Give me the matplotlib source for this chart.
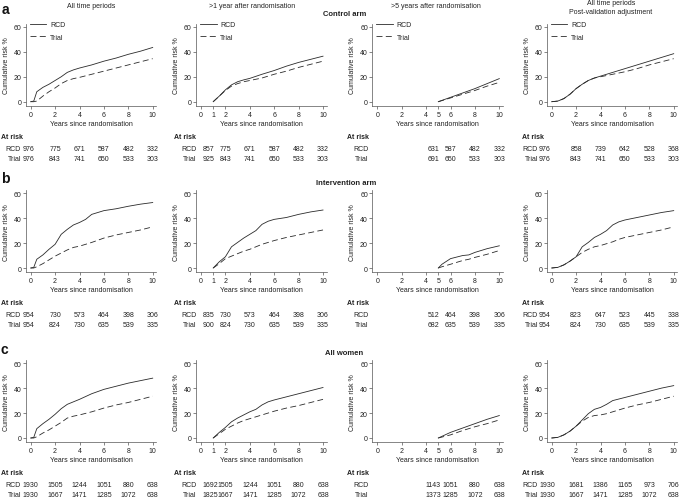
import matplotlib
matplotlib.use('Agg')
import matplotlib.pyplot as plt

plt.rcParams['font.family'] = ['Liberation Sans', 'DejaVu Sans']
plt.rcParams['lines.scale_dashes'] = False

# ---------------- data ----------------
row_titles = ['Control arm', 'Intervention arm', 'All women']
panel_letters = ['a', 'b', 'c']
col_titles = ['All time periods', '>1 year after randomisation',
              '>5 years after randomisation', 'All time periods\nPost-validation adjustment']
col_xticks = [[0, 2, 4, 6, 8, 10], [0, 1, 2, 4, 6, 8, 10],
              [0, 2, 4, 5, 6, 8, 10], [0, 2, 4, 6, 8, 10]]
yticks = [0, 20, 40, 60]
series_names = ['RCD', 'Trial']

# Control arm
ctrl_all_t = [0, 0.25, 0.5, 1, 1.5, 2, 2.5, 3, 3.5, 4, 5, 6, 7, 8, 9, 10]
ctrl_all_rcd = [0, 0.5, 8, 11.5, 14, 17, 20, 23.5, 25.5, 27, 29.5, 32.5, 35, 38, 40.5, 43.5]
ctrl_all_trial = [0, 0, 0.5, 4.5, 8, 11, 14.5, 17, 18.5, 19.5, 22, 24.5, 27, 29.5, 32, 34.5]
ctrl_gt1_t = [1, 1.5, 2, 2.5, 3, 3.5, 4, 5, 6, 7, 8, 9, 10]
ctrl_gt1_rcd = [0, 4.5, 9.5, 13.5, 16, 17.5, 18.7, 22, 25, 28.5, 31.5, 34, 36.5]
ctrl_gt1_trial = [0, 4.5, 9, 12.5, 14.5, 16, 17, 19, 22, 24.5, 27.5, 30, 32.5]
ctrl_gt5_t = [5, 6, 7, 8, 9, 10]
ctrl_gt5_rcd = [0, 3.5, 7, 10.5, 14.5, 18.5]
ctrl_gt5_trial = [0, 3, 6, 9, 12.5, 15.5]
ctrl_adj_t = [0, 0.5, 1, 1.5, 2, 2.5, 3, 3.5, 4, 5, 6, 7, 8, 9, 10]
ctrl_adj_rcd = [0, 0.5, 2.5, 6, 10.5, 14, 17, 19, 20.5, 23.5, 26.5, 29.5, 32.5, 35.5, 38.5]
ctrl_adj_trial = [0, 0.5, 2.5, 6, 10.5, 14, 17, 19, 20, 22, 24, 26.5, 29.5, 32, 34.5]

# Intervention arm
int_all_t = [0, 0.25, 0.5, 1, 1.5, 2, 2.5, 3, 3.5, 4, 4.5, 5, 6, 7, 8, 9, 10]
int_all_rcd = [0, 0.5, 7, 10.5, 15, 19, 27, 31, 34.5, 36.5, 39, 43, 46, 47.5, 49.5, 51.2, 52.5]
int_all_trial = [0, 0, 1, 3.5, 6.5, 9.5, 12, 14.5, 16.5, 17.5, 19, 20.5, 24, 26.5, 28.5, 30.5, 33]
int_gt1_t = [1, 1.5, 2, 2.5, 3, 3.5, 4, 4.5, 5, 5.5, 6, 7, 8, 9, 10]
int_gt1_rcd = [0, 5, 9, 17, 20.5, 24, 27, 30, 35, 37.5, 39, 40.5, 43, 45, 46.5]
int_gt1_trial = [0, 3.5, 7.5, 9.5, 11.5, 13.5, 15, 17, 19, 20.5, 22, 24.5, 26.5, 28.5, 30.5]
int_gt5_t = [5, 5.3, 6, 7, 7.5, 8, 9, 10]
int_gt5_rcd = [0, 3, 7.5, 10, 10.5, 12.5, 15.5, 17.8]
int_gt5_trial = [0, 1, 3, 6, 7, 8.5, 11, 14]
int_adj_t = [0, 0.5, 1, 1.5, 2, 2.5, 3, 3.5, 4, 4.5, 5, 5.5, 6, 7, 8, 9, 10]
int_adj_rcd = [0, 0.5, 2.5, 5.5, 9, 17, 20.5, 24.5, 27, 30, 34.5, 37, 38.5, 40.5, 42.5, 44.5, 46]
int_adj_trial = [0, 0.5, 2.5, 5.5, 9, 12.5, 15, 17, 18, 19.5, 21, 23, 24.5, 26.5, 28.5, 30.5, 33]

# All women
all_all_t = [0, 0.25, 0.5, 1, 1.5, 2, 2.5, 3, 3.5, 4, 5, 6, 7, 8, 9, 10]
all_all_rcd = [0, 0.5, 7.5, 11.5, 15, 19, 23.5, 27, 29, 31, 35.5, 39, 41.5, 44, 46, 48]
all_all_trial = [0, 0, 1, 4, 6.5, 9.5, 12.5, 16, 17.5, 18.5, 21, 24, 26.5, 28.5, 31, 33.5]
all_gt1_t = [1, 1.5, 2, 2.5, 3, 3.5, 4, 4.5, 5, 5.5, 6, 7, 8, 9, 10]
all_gt1_rcd = [0, 4.5, 8.5, 13, 16, 18.5, 21, 23, 26.5, 29, 30.5, 33, 35.5, 38, 40.5]
all_gt1_trial = [0, 3.5, 7, 9.5, 12, 14, 15.5, 17, 18.5, 20, 21.5, 24, 26, 28.5, 31]
all_gt5_t = [5, 6, 7, 8, 9, 10]
all_gt5_rcd = [0, 4.5, 8, 11.5, 15, 18]
all_gt5_trial = [0, 2.5, 6, 9, 11.5, 14.5]
all_adj_t = [0, 0.5, 1, 1.5, 2, 2.5, 3, 3.5, 4, 4.5, 5, 6, 7, 8, 9, 10]
all_adj_rcd = [0, 0.5, 2.5, 5.5, 9.5, 14.5, 19.5, 23, 24.5, 27, 30, 32.5, 35, 37.5, 40, 42]
all_adj_trial = [0, 0.5, 2.5, 5.5, 9.5, 13.5, 16.5, 18, 18.5, 19.5, 21, 24, 26.5, 28.5, 31, 33.5]

# Numbers at risk
risk_t_all = [0, 2, 4, 6, 8, 10]
risk_t_gt1 = [1, 2, 4, 6, 8, 10]
risk_t_gt5 = [5, 6, 8, 10]

ctrl_all_risk_rcd = [976, 775, 671, 587, 482, 332]
ctrl_all_risk_trial = [976, 843, 741, 650, 533, 303]
ctrl_gt1_risk_rcd = [857, 775, 671, 587, 482, 332]
ctrl_gt1_risk_trial = [925, 843, 741, 650, 533, 303]
ctrl_gt5_risk_rcd = [631, 587, 482, 332]
ctrl_gt5_risk_trial = [691, 650, 533, 303]
ctrl_adj_risk_rcd = [976, 858, 739, 642, 528, 368]
ctrl_adj_risk_trial = [976, 843, 741, 650, 533, 303]

int_all_risk_rcd = [954, 730, 573, 464, 398, 306]
int_all_risk_trial = [954, 824, 730, 635, 539, 335]
int_gt1_risk_rcd = [835, 730, 573, 464, 398, 306]
int_gt1_risk_trial = [900, 824, 730, 635, 539, 335]
int_gt5_risk_rcd = [512, 464, 398, 306]
int_gt5_risk_trial = [682, 635, 539, 335]
int_adj_risk_rcd = [954, 823, 647, 523, 445, 338]
int_adj_risk_trial = [954, 824, 730, 635, 539, 335]

all_all_risk_rcd = [1930, 1505, 1244, 1051, 880, 638]
all_all_risk_trial = [1930, 1667, 1471, 1285, 1072, 638]
all_gt1_risk_rcd = [1692, 1505, 1244, 1051, 880, 638]
all_gt1_risk_trial = [1825, 1667, 1471, 1285, 1072, 638]
all_gt5_risk_rcd = [1143, 1051, 880, 638]
all_gt5_risk_trial = [1373, 1285, 1072, 638]
all_adj_risk_rcd = [1930, 1681, 1386, 1165, 973, 706]
all_adj_risk_trial = [1930, 1667, 1471, 1285, 1072, 638]

panels = [
    [(ctrl_all_t, ctrl_all_rcd, ctrl_all_trial, risk_t_all, ctrl_all_risk_rcd, ctrl_all_risk_trial),
     (ctrl_gt1_t, ctrl_gt1_rcd, ctrl_gt1_trial, risk_t_gt1, ctrl_gt1_risk_rcd, ctrl_gt1_risk_trial),
     (ctrl_gt5_t, ctrl_gt5_rcd, ctrl_gt5_trial, risk_t_gt5, ctrl_gt5_risk_rcd, ctrl_gt5_risk_trial),
     (ctrl_adj_t, ctrl_adj_rcd, ctrl_adj_trial, risk_t_all, ctrl_adj_risk_rcd, ctrl_adj_risk_trial)],
    [(int_all_t, int_all_rcd, int_all_trial, risk_t_all, int_all_risk_rcd, int_all_risk_trial),
     (int_gt1_t, int_gt1_rcd, int_gt1_trial, risk_t_gt1, int_gt1_risk_rcd, int_gt1_risk_trial),
     (int_gt5_t, int_gt5_rcd, int_gt5_trial, risk_t_gt5, int_gt5_risk_rcd, int_gt5_risk_trial),
     (int_adj_t, int_adj_rcd, int_adj_trial, risk_t_all, int_adj_risk_rcd, int_adj_risk_trial)],
    [(all_all_t, all_all_rcd, all_all_trial, risk_t_all, all_all_risk_rcd, all_all_risk_trial),
     (all_gt1_t, all_gt1_rcd, all_gt1_trial, risk_t_gt1, all_gt1_risk_rcd, all_gt1_risk_trial),
     (all_gt5_t, all_gt5_rcd, all_gt5_trial, risk_t_gt5, all_gt5_risk_rcd, all_gt5_risk_trial),
     (all_adj_t, all_adj_rcd, all_adj_trial, risk_t_all, all_adj_risk_rcd, all_adj_risk_trial)],
]

# ---------------- layout (pixels) ----------------
W, H = 680, 502
col_x0 = [30.7, 201, 377.3, 551.7]     # pixel of x = 0
row_y0 = [102.7, 269, 439]             # pixel of y = 0
sx, sy = 12.2, 1.247                   # pixels per unit
XL = (-0.4, 10.3)
YL = (-3.5, 62.5)
label_x = [-0.8, -0.35, -0.75, -1.12]    # right edge of RCD/Trial labels (data units)
atrisk_x = [-2.45, -2.2, -2.45, -2.45]   # left edge of "At risk"
first_x = [-0.66, 0.14, 4.6, -1.04]      # anchor of first at-risk number
first_ha = ['left', 'left', 'center', 'left']

FS = 5.0
TXT = '#222222'
AX = '#555555'
LC = '#2a2a2a'

fig = plt.figure(figsize=(W / 100, H / 100), dpi=100)
fig.patch.set_facecolor('white')

def px2fig(x, y):
    return x / W, 1 - y / H

for r in range(3):
    for c in range(4):
        t, rcd, trial, rt, rr, rtr = panels[r][c]
        left = col_x0[c] + XL[0] * sx
        bottom = row_y0[r] - YL[0] * sy
        width = (XL[1] - XL[0]) * sx
        height = (YL[1] - YL[0]) * sy
        ax = fig.add_axes([left / W, 1 - bottom / H, width / W, height / H])
        ax.plot(t, rcd, color=LC, lw=0.6, ls='-', label=series_names[0])
        ax.plot(t, trial, color=LC, lw=0.6, ls=(0, (4.3, 2.4)), label=series_names[1])
        ax.set_xlim(*XL)
        ax.set_ylim(*YL)
        ax.set_xticks(col_xticks[c])
        ax.set_yticks(yticks)
        for s in ('top', 'right'):
            ax.spines[s].set_visible(False)
        for s in ('left', 'bottom'):
            ax.spines[s].set_linewidth(0.5)
            ax.spines[s].set_color(AX)
        ax.tick_params(length=2.2, width=0.5, color=AX, labelsize=FS,
                       labelcolor=TXT, pad=1.0)
        ax.set_ylabel('Cumulative risk %', fontsize=FS, color=TXT)
        ax.yaxis.set_label_coords(-0.125, 0.5)
        ax.set_xlabel('Years since randomisation', fontsize=FS, color=TXT)
        ax.xaxis.set_label_coords(0.5, -0.17)
        ax.patch.set_alpha(0)
        if r == 0:
            ax.legend(loc='upper left', bbox_to_anchor=(0.03, 1.03), frameon=False,
                      fontsize=FS, handlelength=2.4, handletextpad=0.5,
                      labelspacing=0.75, borderpad=0, borderaxespad=0,
                      labelcolor=TXT)
        # numbers at risk
        offs = [-21.6, -30.4, -37.6]
        ax.annotate('At risk', xy=(atrisk_x[c], 0), xycoords=('data', 'axes fraction'),
                    xytext=(0, offs[0]), textcoords='offset points', ha='left',
                    va='center', fontsize=FS, fontweight='bold', color=TXT,
                    annotation_clip=False)
        for name, vals, off in ((series_names[0], rr, offs[1]), (series_names[1], rtr, offs[2])):
            ax.annotate(name, xy=(label_x[c], 0), xycoords=('data', 'axes fraction'),
                        xytext=(0, off), textcoords='offset points', ha='right',
                        va='center', fontsize=FS, color=TXT, annotation_clip=False)
            for i, (tt, v) in enumerate(zip(rt, vals)):
                if i == 0:
                    xx, ha = first_x[c], first_ha[c]
                else:
                    xx, ha = tt, 'center'
                ax.annotate(str(v), xy=(xx, 0), xycoords=('data', 'axes fraction'),
                            xytext=(0, off), textcoords='offset points', ha=ha,
                            va='center', fontsize=FS, color=TXT, annotation_clip=False)

# column titles
title_pos = [(91.5, 6), (252, 6), (436, 6), (611, 8)]
for (x, y), s in zip(title_pos, col_titles):
    fx, fy = px2fig(x, y)
    fig.text(fx, fy, s, ha='center', va='center', fontsize=FS, color=TXT,
             linespacing=1.55)

# row titles
row_title_pos = [(345, 15), (346.5, 183.3), (344, 353.3)]
for (x, y), s in zip(row_title_pos, row_titles):
    fx, fy = px2fig(x, y)
    fig.text(fx, fy, s, ha='center', va='center', fontsize=5.5, fontweight='bold', color=TXT)

# panel letters
letter_pos = [(5, 10.5), (5, 179), (4.5, 350)]
for (x, y), s in zip(letter_pos, panel_letters):
    fx, fy = px2fig(x, y)
    fig.text(fx, fy, s, ha='center', va='center', fontsize=10, fontweight='bold', color='#111111')

fig.savefig('out.png', dpi=100)
